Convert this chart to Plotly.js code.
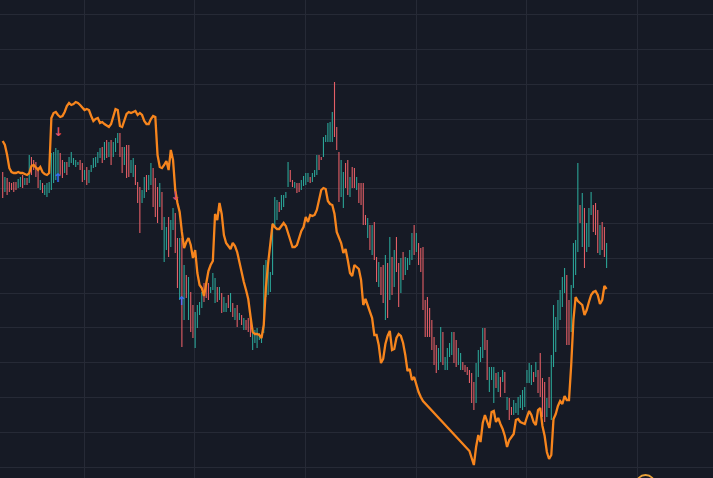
<!DOCTYPE html>
<html>
<head>
<meta charset="utf-8">
<script src="https://cdn.plot.ly/plotly-3.0.1.min.js"></script>
<style>
html,body{margin:0;padding:0;background:#161a25;overflow:hidden;}
#chart{width:713px;height:478px;}
</style>
</head>
<body>
<div id="chart"></div>
<script>
// bar index 0..273
const high = [328,323,322,318,317,318,318,321,323,325,
322,322,345,343,340,338,333,320,317,315,
317,318,347,348,352,350,347,340,338,338,
343,348,342,340,338,340,337,330,333,330,
335,342,343,348,352,353,358,360,358,360,
358,362,367,367,353,353,355,355,340,342,
335,318,313,310,323,325,325,337,332,322,
313,317,308,283,273,283,280,292,287,262,
262,262,235,225,223,208,195,188,195,198,
208,217,217,217,213,227,222,213,213,207,
203,197,205,207,197,192,195,187,185,182,
180,182,187,172,170,172,167,165,235,240,
235,228,277,303,300,298,305,305,308,338,
330,320,318,317,317,320,324,327,327,323,
327,330,345,345,343,363,365,377,378,388,
418,373,348,340,328,337,340,323,333,332,
323,317,317,317,285,282,275,275,278,243,
238,233,235,245,237,263,243,250,263,237,
242,248,243,242,250,267,275,267,257,252,
253,200,203,192,180,163,155,152,173,168,
143,152,157,168,168,160,152,147,138,135,
133,130,127,118,137,150,153,172,172,160,
133,133,133,127,128,123,130,128,103,102,
93,100,97,103,105,110,113,130,137,135,
128,138,130,147,122,118,102,123,145,195,
183,200,210,223,232,225,200,215,257,260,
337,295,307,292,277,292,308,295,297,290,
275,278,273,257];

const low = [302,308,305,308,310,308,310,312,313,312,
315,315,317,325,330,323,312,310,307,305,
303,307,310,317,320,325,325,322,327,325,
333,337,335,333,335,330,318,320,315,317,
328,332,333,337,342,337,340,342,343,335,
343,348,357,343,327,335,322,323,327,323,
315,297,267,297,302,308,310,315,293,283,
277,293,270,238,250,243,253,270,247,212,
200,153,180,202,180,168,162,152,172,185,
192,198,202,200,207,210,197,198,200,187,
188,188,192,188,183,180,173,180,175,170,
170,168,163,150,157,152,160,157,167,203,
205,208,225,273,280,288,290,293,302,313,
318,313,312,307,308,310,314,315,318,317,
318,323,325,330,340,343,358,358,358,358,
363,350,298,303,292,312,305,303,312,312,
310,297,295,275,275,262,250,245,240,218,
213,205,197,180,182,200,205,213,228,193,
207,220,225,230,235,240,245,248,235,228,
190,163,163,163,150,135,127,130,138,135,
130,130,143,145,137,133,135,130,130,128,
125,117,97,90,97,123,138,142,150,120,
108,120,97,112,108,103,118,107,90,80,
85,85,87,85,92,90,93,117,117,115,
118,123,107,103,83,78,83,92,80,133,
148,170,180,193,207,155,155,168,212,225,
248,277,253,232,248,253,285,268,265,247,
245,250,243,232];

const open = [328,308,322,318,317,318,318,312,313,325,
315,322,317,343,340,338,333,310,317,305,
303,307,310,317,320,325,347,340,327,338,
333,337,335,333,335,340,337,320,333,317,
328,332,333,337,342,353,340,360,343,360,
343,348,357,367,353,335,355,355,327,323,
335,318,313,297,302,325,310,315,332,322,
313,293,308,238,250,283,253,270,287,262,
200,262,180,225,180,208,195,152,172,185,
192,217,217,217,207,210,197,213,200,207,
188,188,205,188,197,180,195,180,185,170,
180,182,187,150,157,152,160,157,167,203,
205,208,225,273,280,298,290,293,302,313,
330,320,312,317,317,310,314,315,318,323,
318,323,325,345,343,343,358,358,358,358,
418,373,348,303,292,337,340,303,333,332,
310,317,317,317,285,262,275,245,278,243,
213,233,235,180,237,200,243,213,263,237,
207,248,225,230,235,240,275,248,257,252,
253,200,203,192,180,163,155,130,138,168,
130,130,143,145,168,160,135,130,138,135,
133,130,127,118,97,123,138,142,172,160,
108,120,97,127,108,123,118,128,90,102,
93,85,87,85,92,90,93,117,117,115,
128,123,130,147,122,118,83,123,80,133,
148,170,180,193,207,225,200,168,212,225,
248,295,253,292,248,253,285,295,297,290,
245,278,273,232];

const close = [302,323,305,308,310,308,310,321,323,312,
322,315,345,325,330,323,312,320,307,315,
317,318,347,348,352,350,325,322,338,325,
343,348,342,340,338,330,318,330,315,330,
335,342,343,348,352,337,358,342,358,335,
358,362,367,343,327,353,322,323,340,342,
315,297,267,310,323,308,325,337,293,283,
277,317,270,283,273,243,280,292,247,212,
262,153,235,202,223,168,162,188,195,198,
208,198,202,200,213,227,222,198,213,187,
203,197,192,207,183,192,173,187,175,182,
170,168,163,172,170,172,167,165,235,240,
235,228,277,303,300,288,305,305,308,338,
318,313,318,307,308,320,324,327,327,317,
327,330,345,330,340,363,365,377,378,388,
363,350,298,340,328,312,305,323,312,312,
323,297,295,275,275,282,250,275,240,218,
238,205,197,245,182,263,205,250,228,193,
242,220,243,242,250,267,245,267,235,228,
190,163,163,163,150,135,127,152,173,135,
143,152,157,168,137,133,152,147,130,128,
125,117,97,90,137,150,153,172,150,120,
133,133,133,112,128,103,130,107,103,80,
85,100,97,103,105,110,113,130,137,135,
118,138,107,103,83,78,102,92,145,195,
183,200,210,223,232,155,155,215,257,260,
337,277,307,232,277,292,308,268,265,247,
275,250,243,257];

const avgLine = [359,355,345,332,328,327,327,328,327,327,
326,325,327,334,335,333,330,333,328,326,
325,327,382,387,388,385,383,384,388,394,
397,395,396,398,397,395,392,390,391,390,
384,379,381,382,377,378,376,374,373,376,
383,391,390,374,373,380,386,388,387,388,
389,385,387,385,379,376,376,381,384,383,
345,333,332,335,339,330,350,340,310,297,
288,268,252,258,262,255,242,250,227,215,
212,204,215,229,235,239,286,280,297,286,
265,257,254,251,257,254,248,237,227,218,
210,201,184,168,166,166,165,162,175,213,
237,254,276,273,271,271,274,277,274,268,
260,253,253,255,262,269,273,283,278,285,
284,285,290,299,310,312,311,299,296,295,
286,268,262,257,247,251,240,227,224,235,
233,231,220,195,201,195,187,182,165,165,
155,137,141,156,164,169,150,151,162,166,
164,157,145,129,131,120,123,115,108,103,
99,null,null,null,null,null,null,null,null,null,
null,null,null,null,null,null,null,null,null,null,
null,49,41,35,53,65,58,77,85,78,
72,88,89,78,82,76,71,64,53,60,
63,66,80,81,78,77,76,83,89,85,
78,75,90,92,74,64,48,41,45,81,
86,94,99,96,104,100,100,135,180,203,
199,197,195,185,190,198,205,208,209,205,
196,200,214,211];

const sellIndex = [25, 78];
const sellValue = [367, 303];
const buyIndex = [25, 81];
const buyValue = [321, 198];

const ringIndex = [290.6];
const ringValue = [15.5];

const idx = high.map((_, i) => i);
const lineIdx = avgLine.map((_, i) => i);

const traces = [
  {
    type: 'ohlc',
    x: idx, open: open, high: high, low: low, close: close,
    tickwidth: 0,
    increasing: {line: {color: '#2ba497', width: 1.1}},
    decreasing: {line: {color: '#e35f66', width: 1.1}},
    hoverinfo: 'skip',
    showlegend: false
  },
  {
    type: 'scatter', mode: 'lines',
    x: lineIdx, y: avgLine,
    connectgaps: true,
    line: {color: '#f7851d', width: 2.3},
    hoverinfo: 'skip', showlegend: false
  },
  {
    type: 'scatter', mode: 'text',
    x: sellIndex, y: sellValue, text: sellIndex.map(() => '↓'),
    textfont: {family: 'DejaVu Sans', size: 12, weight: 'bold', color: '#e0516a'},
    textposition: 'middle center',
    hoverinfo: 'skip', showlegend: false
  },
  {
    type: 'scatter', mode: 'text',
    x: buyIndex, y: buyValue, text: buyIndex.map(() => '↑'),
    textfont: {family: 'DejaVu Sans', size: 12, weight: 'bold', color: '#3a6ff0'},
    textposition: 'middle center',
    hoverinfo: 'skip', showlegend: false
  },
  {
    type: 'scatter', mode: 'markers',
    x: ringIndex, y: ringValue,
    cliponaxis: true,
    marker: {symbol: 'circle-open', size: 19, color: '#e8a23a', line: {width: 1.8, color: '#e8a23a'}},
    hoverinfo: 'skip', showlegend: false
  }
];

const layout = {
  width: 713, height: 478,
  margin: {l: 0, r: 0, t: 0, b: 0, pad: 0},
  paper_bgcolor: '#161a25',
  plot_bgcolor: '#161a25',
  showlegend: false,
  hovermode: false,
  xaxis: {
    type: 'linear',
    range: [-1.22, 321.1],
    tick0: 36.9, dtick: 50,
    showgrid: true, gridcolor: '#262a36', gridwidth: 1,
    zeroline: false, showline: false, showticklabels: false, ticks: '',
    rangeslider: {visible: false},
    fixedrange: true
  },
  yaxis: {
    range: [22, 500],
    tick0: 33, dtick: 34.77,
    showgrid: true, gridcolor: '#262a36', gridwidth: 1,
    zeroline: false, showline: false, showticklabels: false, ticks: '',
    fixedrange: true
  }
};

Plotly.newPlot('chart', traces, layout, {staticPlot: true, displayModeBar: false});
</script>
</body>
</html>
